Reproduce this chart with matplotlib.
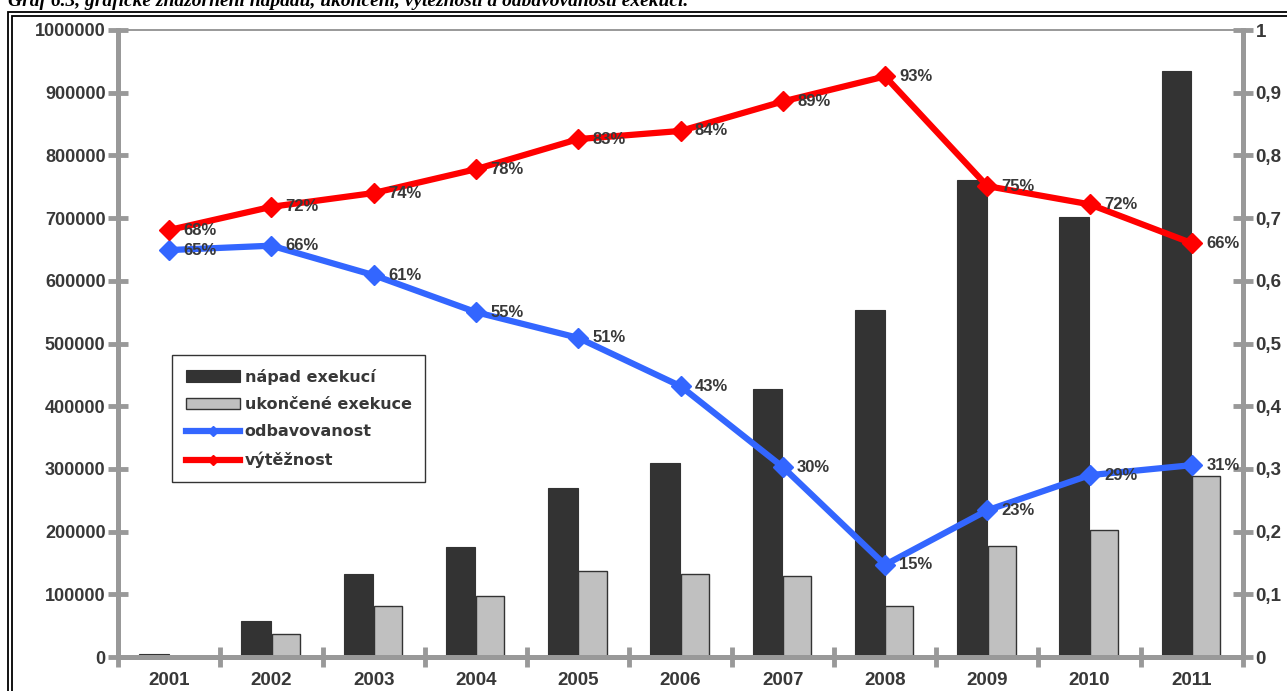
import matplotlib
matplotlib.use('Agg')
import matplotlib.pyplot as plt
import numpy as np
from matplotlib.patches import Rectangle
from matplotlib.ticker import FuncFormatter

# data
years = ['2001', '2002', '2003', '2004', '2005', '2006', '2007', '2008', '2009', '2010', '2011']
napad = [5000, 58000, 132000, 175000, 270000, 309000, 427000, 553000, 761000, 702000, 935000]
ukoncene = [2000, 37000, 81000, 97000, 137000, 132000, 129000, 81000, 177000, 202000, 288000]
odbavovanost = [0.649, 0.656, 0.609, 0.550, 0.509, 0.432, 0.303, 0.147, 0.234, 0.290, 0.306]
vyteznost = [0.681, 0.718, 0.740, 0.778, 0.826, 0.839, 0.886, 0.926, 0.751, 0.722, 0.660]

left_ticks = list(range(0, 1000001, 100000))
right_ticks = [i / 10 for i in range(11)]

plt.rcParams['font.family'] = ['Liberation Sans', 'DejaVu Sans']
plt.rcParams['font.weight'] = 'bold'

axis_grey = '#999999'
text_grey = '#383838'

fig = plt.figure(figsize=(12.87, 6.91), dpi=100)
W, H = 1287, 691

# caption cut by the top edge, as in the scan
fig.text(8 / W, 1 - 6 / H, 'Graf 6.3, grafické znázornění nápadu, ukončení, výtěžnosti a odbavovanosti exekucí.',
         family='Liberation Serif', style='italic', weight='bold', fontsize=14,
         ha='left', va='baseline', color='black')

# double frame around the chart
fig.patches.append(Rectangle((8 / W, -0.1), 1.2, 1 - 12 / H + 0.1, transform=fig.transFigure,
                             fill=False, lw=1.3, ec='black'))
fig.patches.append(Rectangle((12 / W, -0.1), 1.2, 1 - 16 / H + 0.1, transform=fig.transFigure,
                             fill=False, lw=1.3, ec='black'))

ax = fig.add_axes([118 / W, 1 - 657 / H, (1243 - 118) / W, (657 - 30) / H])
ax2 = ax.twinx()

x = np.arange(len(years))
bw = 0.29
ax.bar(x - bw / 2 - 0.005, napad, width=bw, color='#333333', edgecolor='#333333', lw=0.8, zorder=2,
       label='nápad exekucí')
ax.bar(x + bw / 2 - 0.005, ukoncene, width=bw * 0.95, color='#c0c0c0', edgecolor='#333333', lw=1.0, zorder=2,
       label='ukončené exekuce')

ax2.plot(x, odbavovanost, color='#3366ff', lw=4.5, marker='D', ms=10, zorder=3, label='odbavovanost')
ax2.plot(x, vyteznost, color='#ff0000', lw=4.5, marker='D', ms=10, zorder=3, label='výtěžnost')

for xi, v in zip(x, odbavovanost):
    ax2.text(xi + 0.14, v, f'{round(v * 100)}%', fontsize=12, weight='bold', color=text_grey,
             ha='left', va='center', zorder=4)
for xi, v in zip(x, vyteznost):
    ax2.text(xi + 0.14, v, f'{round(v * 100)}%', fontsize=12, weight='bold', color=text_grey,
             ha='left', va='center', zorder=4)

ax.set_xlim(-0.5, len(years) - 0.5)
ax.set_ylim(0, 1000000)
ax2.set_ylim(0, 1)

ax.set_yticks(left_ticks)
ax.set_yticklabels([str(t) for t in left_ticks])
ax2.set_yticks(right_ticks)
ax2.yaxis.set_major_formatter(FuncFormatter(lambda v, p: '0' if v == 0 else ('1' if v == 1 else f'{v:.1f}'.replace('.', ','))))

ax.set_xticks(x)
ax.set_xticklabels(years)
ax.set_xticks(np.arange(-0.5, len(years)), minor=True)
ax.tick_params(axis='x', which='major', length=0, labelsize=13.5, labelcolor=text_grey, pad=11)
ax.tick_params(axis='x', which='minor', direction='inout', length=14, width=3.5, color=axis_grey)
ax.tick_params(axis='y', direction='inout', length=14, width=3.5, color=axis_grey,
               labelsize=13, labelcolor=text_grey, pad=2)
ax2.tick_params(axis='y', direction='inout', length=14, width=3.5, color=axis_grey,
                labelsize=13.5, labelcolor=text_grey, pad=2)

for a in (ax, ax2):
    for side in ('left', 'right', 'bottom'):
        a.spines[side].set_color(axis_grey)
        a.spines[side].set_linewidth(3.5)
    a.spines['top'].set_color(axis_grey)
    a.spines['top'].set_linewidth(1.2)

h1, l1 = ax.get_legend_handles_labels()
h2, l2 = ax2.get_legend_handles_labels()
leg = ax2.legend(h1 + h2, l1 + l2, loc='upper left', bbox_to_anchor=((172 - 118) / (1243 - 118), (657 - 355) / 627),
                 prop={'family': 'DejaVu Sans', 'weight': 'bold', 'size': 11.5},
                 frameon=True, fancybox=False, edgecolor='black', handlelength=3.4, markerscale=0.55,
                 borderpad=0.85, labelspacing=0.78, handletextpad=0.3, borderaxespad=0)
leg.get_frame().set_linewidth(1.0)
for t in leg.get_texts():
    t.set_color(text_grey)
leg.set_zorder(5)

plt.savefig('out.png', dpi=100)
plt.close()
